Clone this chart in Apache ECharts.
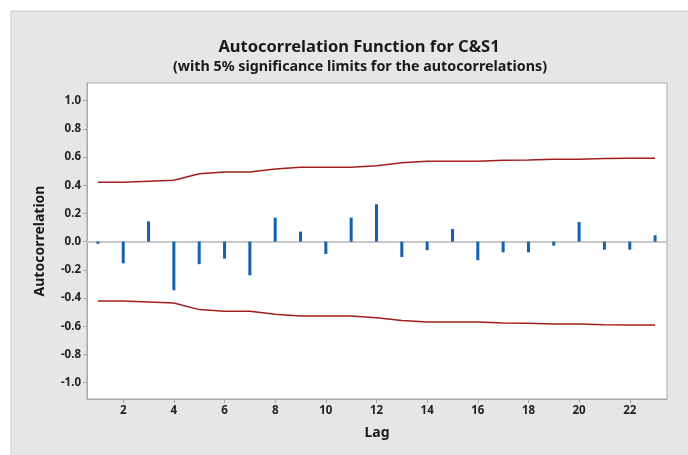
<!DOCTYPE html>
<html>
<head>
<meta charset="utf-8">
<script src="https://cdn.jsdelivr.net/npm/echarts@6/dist/echarts.min.js"></script>
<style>
  html, body { margin: 0; padding: 0; background: #ffffff; }
  #chart { width: 688px; height: 455px; }
</style>
</head>
<body>
<div id="chart"></div>
<script>
// Lags 1..23
const lags = [1,2,3,4,5,6,7,8,9,10,11,12,13,14,15,16,17,18,19,20,21,22,23];
// Sample autocorrelations
const acf = [-0.015,-0.154,0.144,-0.345,-0.160,-0.120,-0.239,0.170,0.071,-0.087,0.170,0.265,
             -0.109,-0.061,0.090,-0.132,-0.076,-0.076,-0.028,0.139,-0.057,-0.057,0.045];
// Upper 5% significance limit (lower limit is its negative)
const upperLimit = [0.421,0.421,0.428,0.435,0.482,0.494,0.494,0.515,0.527,0.527,0.527,0.539,
                    0.560,0.570,0.570,0.570,0.577,0.579,0.584,0.584,0.590,0.591,0.591];
const yTicks = [-1.0,-0.8,-0.6,-0.4,-0.2,0.0,0.2,0.4,0.6,0.8,1.0];
const xTicks = [2,4,6,8,10,12,14,16,18,20,22];

const FONT = 'Noto Sans';
const chart = echarts.init(document.getElementById('chart'));

chart.setOption({
  animation: false,
  backgroundColor: '#ffffff',
  textStyle: { fontFamily: FONT },
  graphic: [{
    type: 'rect', z: -10,
    shape: { x: 11, y: 11, width: 690, height: 460 },
    style: { fill: '#e6e6e6', stroke: '#c9c9c9', lineWidth: 1 }
  }],
  title: [{
    text: 'Autocorrelation Function for C&S1',
    left: 354, top: 34, textAlign: 'center',
    textStyle: { fontFamily: FONT, fontSize: 16.5, fontWeight: 'bold', color: '#1a1a1a' }
  }, {
    text: '(with 5% significance limits for the autocorrelations)',
    left: 355, top: 55, textAlign: 'center',
    textStyle: { fontFamily: FONT, fontSize: 14.3, fontWeight: 'bold', color: '#1a1a1a' }
  }],
  grid: {
    left: 87, top: 83, right: 21, bottom: 56,
    show: true, backgroundColor: '#ffffff', borderColor: '#a8a8a8', borderWidth: 1
  },
  xAxis: {
    type: 'value', min: 0.57, max: 23.47,
    name: 'Lag', nameLocation: 'middle', nameGap: 27,
    nameTextStyle: { fontFamily: FONT, fontSize: 14, fontWeight: 'bold', color: '#1a1a1a' },
    axisLine: { show: true, onZero: false, lineStyle: { color: '#a8a8a8' } },
    axisTick: { show: true, length: 4, lineStyle: { color: '#a8a8a8' }, customValues: xTicks },
    axisLabel: { fontFamily: FONT, fontSize: 11.5, fontWeight: 'bold', color: '#222', margin: 6, customValues: xTicks },
    splitLine: { show: false }
  },
  yAxis: {
    type: 'value', min: -1.116, max: 1.125,
    name: 'Autocorrelation', nameLocation: 'middle', nameGap: 40,
    nameTextStyle: { fontFamily: FONT, fontSize: 14, fontWeight: 'bold', color: '#1a1a1a' },
    axisLine: { show: true, lineStyle: { color: '#a8a8a8' } },
    axisTick: { show: true, length: 4, lineStyle: { color: '#a8a8a8' }, customValues: yTicks },
    axisLabel: {
      fontFamily: FONT, fontSize: 11.5, fontWeight: 'bold', color: '#222', margin: 6,
      customValues: yTicks, formatter: v => v.toFixed(1)
    },
    splitLine: { show: false }
  },
  series: [{
    type: 'bar',
    data: lags.map((l, i) => [l, acf[i]]),
    barWidth: 3,
    itemStyle: { color: '#1560b0' },
    markLine: {
      silent: true, symbol: 'none', label: { show: false },
      lineStyle: { color: '#c8c8c8', width: 2, type: 'solid' },
      data: [{ yAxis: 0 }],
      z: 1
    },
    z: 3
  }, {
    type: 'line',
    data: lags.map((l, i) => [l, upperLimit[i]]),
    showSymbol: false, symbol: 'none',
    lineStyle: { color: '#a11d1d', width: 1.5 }
  }, {
    type: 'line',
    data: lags.map((l, i) => [l, -upperLimit[i]]),
    showSymbol: false, symbol: 'none',
    lineStyle: { color: '#a11d1d', width: 1.5 }
  }]
});
</script>
</body>
</html>
